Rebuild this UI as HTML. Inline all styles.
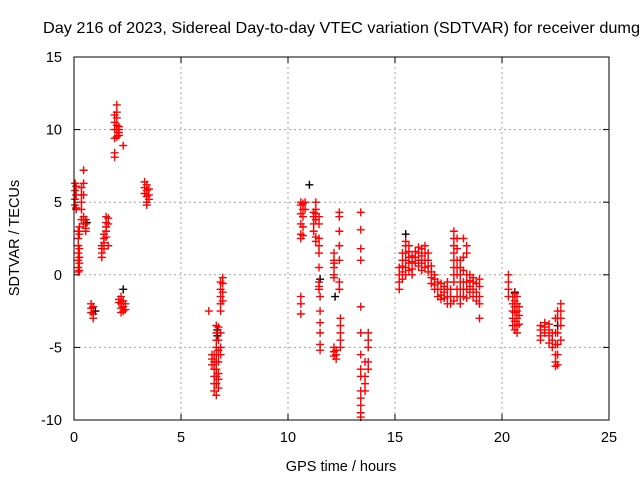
<!DOCTYPE html>
<html><head><meta charset="utf-8"><style>
body{margin:0;background:#fff}
svg{display:block;font-family:"Liberation Sans",sans-serif}
</style></head><body>
<svg width="640" height="480">
<rect width="640" height="480" fill="#fff"/>
<text x="43" y="33" font-size="16" textLength="597" lengthAdjust="spacingAndGlyphs">Day 216 of 2023, Sidereal Day-to-day VTEC variation (SDTVAR) for receiver dumg</text>
<g id="grid"></g>
<g id="axes"></g>
<g id="marks"></g>
<rect x="74" y="57" width="535" height="363" fill="none" stroke="#000" stroke-width="1"/>
<text x="341" y="471" font-size="14.5" text-anchor="middle">GPS time / hours</text>
<text transform="translate(19,238) rotate(-90)" font-size="14.5" text-anchor="middle">SDTVAR / TECUs</text>
</svg>
<script>
const xTicks=[0,5,10,15,20,25];
const yTicks=[-10,-5,0,5,10,15];
const colHours=[0.05,0.1,0.2,0.25,0.35,0.45,0.55,0.8,0.9,1.3,1.4,1.5,1.6,1.9,2.0,2.1,2.3,2.1,2.2,2.3,2.4,3.3,3.4,3.5,6.3,6.45,6.55,6.65,6.75,6.85,6.85,6.95,10.6,10.7,10.6,10.8,11.2,11.3,11.45,11.5,12.15,12.25,12.15,12.4,12.45,13.4,13.6,13.75,15.2,15.35,15.5,15.65,15.8,15.95,16.1,16.25,16.4,16.55,16.7,16.85,17.0,17.15,17.3,17.45,17.6,17.75,17.9,18.05,18.2,18.35,18.5,18.65,18.8,18.95,20.3,20.5,20.6,20.7,20.8,21.8,22.0,22.2,22.35,22.5,22.6,22.75];
const colValues=[
[6.3,5.8,5.2,4.8],[4.5,4.6,5.5,6.1],[3.0,2.5,2.0,1.5,1.0,0.5,0.2],[3.3,2.8,1.8,1.2,0.8,0.3],[6.0,5.5,5.0,4.5,3.8],[7.2,6.3,5.5,4.0,3.5],[3.8,3.5,3.2,3.0],
[-2.0,-2.3,-2.6],[-2.2,-2.7,-3.0],[1.2,1.5,1.8,2.0],[1.8,2.2,2.5,2.8],[2.6,3.0,3.3,3.6,4.0],[2.0,3.5,3.9],
[8.1,8.4,9.4,10.0,10.5,11.0],[9.5,10.0,10.3,10.8,11.2,11.7],[9.6,9.8,10.0,10.2],[8.9],
[-1.7,-1.9],[-1.5,-2.0,-2.3,-2.6],[-1.8,-2.2,-2.5],[-2.0,-2.4],
[6.4,6.0,5.6],[6.2,5.8,5.4,5.0,4.8],[5.9,5.5,5.2],
[-2.5],[-5.5,-5.8,-6.2],[-5.5,-6.0,-6.5,-7.0,-7.5,-8.0],[-3.5,-4.0,-4.5,-5.0,-5.5,-6.0,-6.5,-7.0,-7.5,-8.3],[-3.6,-4.5,-5.2,-5.5,-6.0,-6.8,-7.2,-7.8],[-4.0,-5.0,-5.5],[-0.5,-1.0,-1.5,-2.0,-2.5],[-0.2,-0.6,-1.2,-1.8],
[2.5,2.8,3.5,4.2,4.8,5.0],[2.7,3.3,4.0,4.5,4.9],[-1.5,-2.0,-2.7],[4.5,5.0],
[3.0,3.5,4.0,4.3],[2.3,2.6,3.8,4.2,4.5,5.0],[4.0,3.5,2.5,2.0,1.5,0.5,-0.5,-0.8,-1.0],[-1.5,-2.5,-3.3,-4.0,-4.8,-5.2],
[-5.0,-5.3,-5.6],[-5.2,-5.5,-5.8],[1.5,1.0,0.8,0.5,0.0,-0.2],[4.3,4.0,3.0,2.0,1.0,-0.5,-1.0],[-3.0,-3.5,-4.0,-4.5,-5.0],
[4.3,3.1,1.8,1.0,-2.2,-4.0,-5.5,-6.5,-7.0,-8.0,-8.5,-9.0,-9.5,-9.8],[-6.0,-7.0,-7.5,-8.0],[-4.0,-4.5,-5.0,-6.0,-6.5],
[-1.0,-0.5,0.0,0.5],[-0.3,0.2,0.6,1.0,1.5],[0.0,0.5,1.0,1.5,2.0,2.3],[0.3,0.8,1.2,1.6,2.0],[0.0,0.4,0.9,1.3],[0.8,1.2,1.6],
[0.6,1.0,1.5,1.9],[0.3,0.8,1.3,1.8],[0.5,1.0,1.5,2.0],[0.2,0.6,1.0,1.5],[-0.6,-0.2,0.2,0.6],[-0.3,-0.7,-1.0,0.0],
[-0.5,-1.0,-1.5],[-0.6,-1.0,-1.4,-1.7],[-0.8,-1.2,-1.6],[-0.5,-1.0,-1.5,-2.0],[-1.0,-1.5,-2.0],
[-0.5,0.0,0.5,1.0,1.5,2.0,2.5,3.0,-1.8],[-1.5,-1.0,0.0,0.5,1.0,1.8,2.5],[-2.0,-1.5,-1.0,-0.5,0.0,0.5,1.0],
[-1.5,-1.0,-0.5,0.3,1.2,2.5],[-1.6,-1.0,-0.5,0.0,1.5,2.0],[-1.2,-0.8,-0.4,0.0],[-1.5,-1.0,-0.5,-0.2],[-1.8,-1.2,-0.6],[-1.5,-0.8,-0.3,-2.0,-3.0],
[0.0,-0.5,-1.0,-1.5],[-1.5,-2.0,-2.5,-3.0,-3.5],[-1.3,-1.8,-2.2,-2.6,-3.2,-3.8],[-1.5,-2.0,-2.5,-3.0,-3.5,-4.0],[-2.2,-2.8,-3.4],
[-3.5,-3.8,-4.2,-4.5],[-3.3,-3.6,-4.0],[-3.4,-3.8,-4.2,-4.7],[-4.5,-5.0,-4.0],[-4.0,-4.8,-5.5,-6.0,-6.3,-3.0],[-2.5,-3.0,-4.0,-4.8,-5.5,-6.2],[-2.0,-2.5,-3.0,-3.5,-4.5]
];
const blackHours=[0.6,1.0,2.3,6.7,6.7,11.0,11.5,12.2,15.5,20.6,22.6];
const blackValues=[3.6,-2.5,-1.0,-4.2,-3.8,6.2,-0.3,-1.5,2.8,-1.2,-3.5];

const NS="http://www.w3.org/2000/svg";
const X0=74,X1=609,Y0=420,Y1=57;
const sx=v=>X0+(v-0)/(25-0)*(X1-X0);
const sy=v=>Y0-(v+10)/(25)*(Y0-Y1);
function mk(tag,attrs,parent){const e=document.createElementNS(NS,tag);for(const k in attrs)e.setAttribute(k,attrs[k]);parent.appendChild(e);return e;}
const grid=document.getElementById('grid'),axes=document.getElementById('axes'),marks=document.getElementById('marks');
xTicks.forEach(t=>{
  const x=sx(t);
  if(t>0&&t<25){const g=mk('line',{x1:x,x2:x,y1:Y1,y2:Y0,stroke:'#a0a0a0','stroke-dasharray':'2,3'},grid);
  
  }
  mk('line',{x1:x,x2:x,y1:Y0,y2:Y0-6,stroke:'#000'},axes);
  mk('line',{x1:x,x2:x,y1:Y1,y2:Y1+6,stroke:'#000'},axes);
  const l=mk('text',{x:x,y:442,'font-size':14.5,'text-anchor':'middle'},axes);l.textContent=t;
  
  
});
yTicks.forEach(t=>{
  const y=sy(t);
  if(t>-10&&t<15){const g=mk('line',{x1:X0,x2:X1,y1:y,y2:y,stroke:'#a0a0a0','stroke-dasharray':'2,3'},grid);
  
  }
  mk('line',{x1:X0,x2:X0+6,y1:y,y2:y,stroke:'#000'},axes);
  mk('line',{x1:X1,x2:X1-6,y1:y,y2:y,stroke:'#000'},axes);
  const l=mk('text',{x:62,y:y+5,'font-size':14.5,'text-anchor':'end'},axes);l.textContent=t;
  
  
});
function plus(h,v,color){
  const x=sx(h),y=sy(v);
  const p=mk('path',{d:`M${x-4} ${y}H${x+4}M${x} ${y-4}V${y+4}`,stroke:color,'stroke-width':1.4,fill:'none'},marks);
  
  
}
blackHours.forEach((h,i)=>plus(h,blackValues[i],'#000'));
colHours.forEach((h,i)=>colValues[i].forEach(v=>plus(h,v,'#f00')));
</script>
</body></html>
